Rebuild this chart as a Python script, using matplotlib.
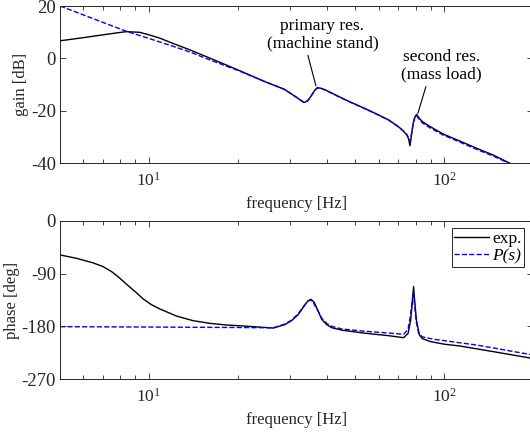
import matplotlib
matplotlib.use('Agg')
import matplotlib.pyplot as plt

plt.rcParams['font.family'] = ['Liberation Serif', 'DejaVu Serif']
plt.rcParams['mathtext.fontset'] = 'custom'
plt.rcParams['mathtext.rm'] = 'Liberation Serif'
plt.rcParams['mathtext.it'] = 'Liberation Serif:italic'
plt.rcParams['axes.unicode_minus'] = False
plt.rcParams['font.size'] = 12

# gain, measured (exp.)
f_gain_exp = [5, 6, 7, 8, 8.4, 9.3, 10, 10.9, 12, 13.8, 16, 20, 24.7, 28.7, 30.1, 32,
              33.5, 34.5, 35.5, 36.4, 37.2, 38.5, 40, 44, 47.9, 54, 59.9, 65, 70, 72.5,
              74.8, 75.8, 76.6, 77.5, 78.5, 79.5, 80.7, 82.5, 84.4, 89.7, 99.6, 113, 129,
              147, 167, 200]
gain_exp = [6.7, 7.9, 9.0, 9.9, 10.2, 9.95, 9.0, 7.7, 5.8, 3.2, 0.2, -4.4, -8.9, -11.8,
            -13.3, -15.3, -16.9, -16.3, -14.3, -12.3, -11.2, -11.5, -12.3, -14.6, -16.6,
            -19.2, -21.6, -23.6, -26.1, -27.6, -29.3, -30.8, -33.4, -29.5, -25.0, -22.5,
            -21.4, -23.0, -24.2, -26.1, -29.0, -31.6, -34.4, -37.0, -40.1, -43.5]

# gain, model P(s)
f_gain_mod = [5, 6, 7, 8.4, 10, 12, 13.8, 16, 20, 24.7, 28.7, 30.1, 32, 33.5, 34.5, 35.5,
              36.4, 37.2, 38.5, 40, 44, 47.9, 54, 59.9, 65, 70, 72.5, 74.8, 75.8, 76.6,
              77.5, 78.5, 79.5, 80.5, 82.5, 84.4, 89.7, 99.6, 113, 129, 147, 167, 200]
gain_mod = [20, 16.6, 13.7, 10.3, 7.6, 4.7, 2.4, -0.5, -4.6, -8.9, -11.8, -13.3, -15.3,
            -16.8, -16.2, -14.3, -12.3, -11.3, -11.6, -12.4, -14.7, -16.7, -19.3, -21.7,
            -23.7, -26.2, -27.6, -29.2, -30.4, -31.8, -29.0, -25.2, -22.8, -21.8, -23.4,
            -24.7, -26.6, -29.4, -32.0, -34.8, -37.4, -40.3, -43.6]

# phase, measured (exp.)
f_phase_exp = [5, 5.69, 6.47, 7.0, 7.5, 7.9, 8.4, 9.0, 9.56, 10.2, 10.9, 12.4, 14.1, 16.1,
               18.3, 20.9, 26.4, 28.9, 30.5, 32.1, 33.5, 34.5, 35.4, 36.3, 37.3, 38.5,
               40, 41.6, 45, 54, 65, 72.9, 75.5, 77, 78, 78.8, 79.6, 80.6, 82.5, 84.4,
               89.7, 100, 113, 147, 200]
phase_exp = [-58, -63.8, -71.5, -78, -87, -96, -108, -121, -133, -143, -150.4, -162.4,
             -170.3, -174.9, -177.7, -179.4, -182.9, -177, -170, -159.5, -146, -137,
             -133.8, -139, -152, -168, -177, -182.3, -186.5, -191.8, -196, -199.4, -192,
             -170, -140, -112, -140, -170, -195, -201, -206, -210.5, -213.6, -223.3, -235]

# phase, model P(s)
f_phase_mod = [5, 10, 20, 26.4, 28.9, 30.5, 32.1, 33.5, 34.5, 35.2, 36.1, 37.3, 38.5, 40,
               41.6, 45, 54, 65, 72.9, 75.5, 77, 78, 78.6, 79.3, 80.3, 82, 84.4, 92, 100,
               129, 147, 167, 200]
phase_mod = [-180.6, -181.2, -182, -182.5, -176, -169, -158, -145, -137, -135, -140, -153,
             -166, -175, -180, -184.5, -188.5, -191.5, -193.6, -185, -160, -135, -122,
             -140, -170, -192, -198, -202, -204.5, -212, -217, -222, -229]

W, H = 530, 432
fig = plt.figure(figsize=(W / 100, H / 100), dpi=100)
ax1 = fig.add_axes([60 / W, 1 - 163 / H, 473 / W, 157 / H])
ax2 = fig.add_axes([60 / W, 1 - 379 / H, 473 / W, 158 / H])

ink = '#262626'
for ax in (ax1, ax2):
    ax.set_xscale('log')
    ax.set_xlim(5, 200)
    ax.tick_params(which='both', direction='in', top=True, right=True, colors=ink)
    ax.tick_params(which='major', length=4.5, width=0.6)
    ax.tick_params(which='minor', length=3, width=0.6)
    ax.tick_params(axis='x', labelsize=12.5, pad=6)
    ax.tick_params(axis='y', labelsize=13.5, pad=3)
    for s in ax.spines.values():
        s.set_color(ink)
        s.set_linewidth(0.7)
    ax.set_xlabel('frequency [Hz]', color=ink, labelpad=5)

ax1.plot(f_gain_exp, gain_exp, color='k', lw=1.0)
ax1.plot(f_gain_mod, gain_mod, color='#0000ff', lw=1.0, ls='--')
ax1.set_ylim(-40, 20)
ax1.set_yticks([-40, -20, 0, 20])
ax1.set_ylabel('gain [dB]', color=ink, labelpad=1)

ax1.annotate('primary res.\n(machine stand)', xy=(36.8, -10.5), xytext=(38.7, 9.1),
             ha='center', va='center', fontsize=12.5, linespacing=1.1,
             arrowprops=dict(arrowstyle='-', color='k', lw=0.8, shrinkA=1, shrinkB=0,
                             relpos=(0.36, 0)))
ax1.annotate('second res.\n(mass load)', xy=(81.5, -21), xytext=(98.1, -2.9),
             ha='center', va='center', fontsize=12.5, linespacing=1.1,
             arrowprops=dict(arrowstyle='-', color='k', lw=0.8, shrinkA=1, shrinkB=0,
                             relpos=(0.32, 0)))

ax2.plot(f_phase_exp, phase_exp, color='k', lw=1.0, label='exp.')
ax2.plot(f_phase_mod, phase_mod, color='#0000ff', lw=1.0, ls='--', label='P(s)')
ax2.set_ylim(-270, 0)
ax2.set_yticks([-270, -180, -90, 0])
ax2.set_ylabel('phase [deg]', color=ink, labelpad=1)
leg = ax2.legend(loc='upper right', bbox_to_anchor=(0.9816, 0.954), borderaxespad=0,
                 fontsize=12.5, fancybox=False, framealpha=1, edgecolor=ink,
                 borderpad=0.15, handletextpad=0.2, labelspacing=0.05, handlelength=2.0)
leg.get_frame().set_linewidth(0.7)
leg.get_texts()[1].set_fontstyle('italic')

fig.savefig('out.png', dpi=100)
